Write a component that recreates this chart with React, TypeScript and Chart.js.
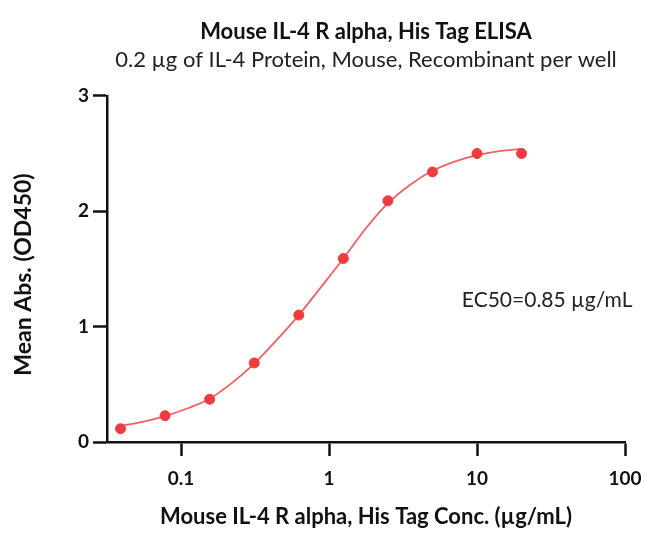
import React, { useEffect, useRef } from "react";
import { Chart, registerables } from "chart.js";

Chart.register(...registerables);

const TITLE = "Mouse IL-4 R alpha, His Tag ELISA";
const SUBTITLE = "0.2 µg of IL-4 Protein, Mouse, Recombinant per well";
const X_TITLE = "Mouse IL-4 R alpha, His Tag Conc. (µg/mL)";
const Y_TITLE = "Mean Abs. (OD450)";
const EC50_LABEL = "EC50=0.85 µg/mL";
const EC50_LABEL_AT = { x: 7.9, y: 1.23 };

const concentrations = [0.039, 0.078, 0.156, 0.3125, 0.625, 1.25, 2.5, 5, 10, 20];
const meanAbs = [0.115, 0.228, 0.37, 0.685, 1.1, 1.59, 2.09, 2.34, 2.5, 2.5];

const fitX = [0.039, 0.055, 0.078, 0.11, 0.156, 0.22, 0.3125, 0.44, 0.625, 0.88, 1.25, 1.77, 2.5, 3.54, 5, 7.07, 10, 14.1, 20];
const fitY = [0.14, 0.175, 0.225, 0.29, 0.375, 0.51, 0.68, 0.88, 1.1, 1.34, 1.59, 1.85, 2.07, 2.23, 2.35, 2.43, 2.485, 2.52, 2.54];

const xTicks = [0.1, 1, 10, 100];
const xTickLabels = ["0.1", "1", "10", "100"];
const yTicks = [0, 1, 2, 3];

const FONT = "Lato, 'Open Sans', sans-serif";

const ec50Plugin = {
  id: "ec50Label",
  afterDatasetsDraw(chart: any) {
    const { ctx, scales } = chart;
    const px = scales.x.getPixelForValue(EC50_LABEL_AT.x);
    const py = scales.y.getPixelForValue(EC50_LABEL_AT.y);
    ctx.save();
    ctx.font = `21px ${FONT}`;
    ctx.fillStyle = "#222";
    ctx.textAlign = "left";
    ctx.textBaseline = "middle";
    ctx.fillText(EC50_LABEL, px, py);
    ctx.restore();
  },
};

export default function App() {
  const ref = useRef<HTMLCanvasElement | null>(null);
  useEffect(() => {
    if (!ref.current) return;
    const chart = new Chart(ref.current, {
      type: "scatter",
      data: {
        datasets: [
          {
            label: "fit",
            data: fitX.map((x, i) => ({ x, y: fitY[i] })),
            showLine: true,
            borderColor: "#f25f62",
            borderWidth: 1.8,
            pointRadius: 0,
            tension: 0.4,
            cubicInterpolationMode: "monotone",
            order: 2,
          } as any,
          {
            label: "data",
            data: concentrations.map((x, i) => ({ x, y: meanAbs[i] })),
            backgroundColor: "#ef3b3f",
            borderColor: "#ef3b3f",
            pointRadius: 5,
            showLine: false,
            order: 1,
          },
        ],
      },
      options: {
        animation: false,
        responsive: false,
        maintainAspectRatio: false,
        layout: { padding: { left: 0, right: 20, top: 0, bottom: 0 } },
        plugins: {
          legend: { display: false },
          tooltip: { enabled: false },
          title: {
            display: true,
            fullSize: false,
            text: TITLE,
            color: "#111",
            font: { family: FONT, size: 22, weight: "bold", lineHeight: 1.2 },
            padding: { top: 19, bottom: 1 },
          },
          subtitle: {
            display: true,
            fullSize: false,
            text: SUBTITLE,
            color: "#222",
            font: { family: FONT, size: 22, weight: "normal", lineHeight: 1.2 },
            padding: { top: 0, bottom: 23 },
          },
        },
        scales: {
          x: {
            type: "logarithmic",
            min: 0.0316,
            max: 100,
            afterBuildTicks: (scale: any) => {
              scale.ticks = xTicks.map((v) => ({ value: v }));
            },
            afterFit: (scale: any) => {
              scale.height = 92;
              scale.paddingLeft = 0;
              scale.paddingRight = 0;
            },
            ticks: {
              autoSkip: false,
              maxRotation: 0,
              padding: 11,
              color: "#111",
              font: { family: FONT, size: 19, weight: "bold" },
              callback: (v: any) => {
                const i = xTicks.indexOf(Number(v));
                return i >= 0 ? xTickLabels[i] : "";
              },
            },
            grid: {
              display: true,
              drawOnChartArea: false,
              drawTicks: true,
              tickLength: 14,
              tickWidth: 2.5,
              tickColor: "#111",
            },
            border: { display: true, color: "#111", width: 2.5 },
            title: {
              display: true,
              text: X_TITLE,
              color: "#111",
              font: { family: FONT, size: 22, weight: "bold", lineHeight: 1 },
              padding: { top: 0, bottom: 6 },
            },
          },
          y: {
            type: "linear",
            min: 0,
            max: 3,
            afterBuildTicks: (scale: any) => {
              scale.ticks = yTicks.map((v) => ({ value: v }));
            },
            afterFit: (scale: any) => {
              scale.width = 107;
            },
            ticks: {
              padding: 4,
              color: "#111",
              font: { family: FONT, size: 19, weight: "bold" },
            },
            grid: {
              display: true,
              drawOnChartArea: false,
              drawTicks: true,
              tickLength: 14,
              tickWidth: 2.5,
              tickColor: "#111",
            },
            border: { display: true, color: "#111", width: 2.5 },
            title: {
              display: true,
              text: Y_TITLE + "  ",
              color: "#111",
              font: { family: FONT, size: 23, weight: "bold", lineHeight: 1.2 },
              padding: { top: 10, bottom: 0 },
            },
          },
        },
      },
      plugins: [ec50Plugin],
    });
    return () => chart.destroy();
  }, []);
  return (
    <div style={{ position: "absolute", left: 0, top: 0, width: 645, height: 534 }}>
      <canvas ref={ref} width={645} height={534} style={{ width: 645, height: 534, display: "block" }} />
    </div>
  );
}
